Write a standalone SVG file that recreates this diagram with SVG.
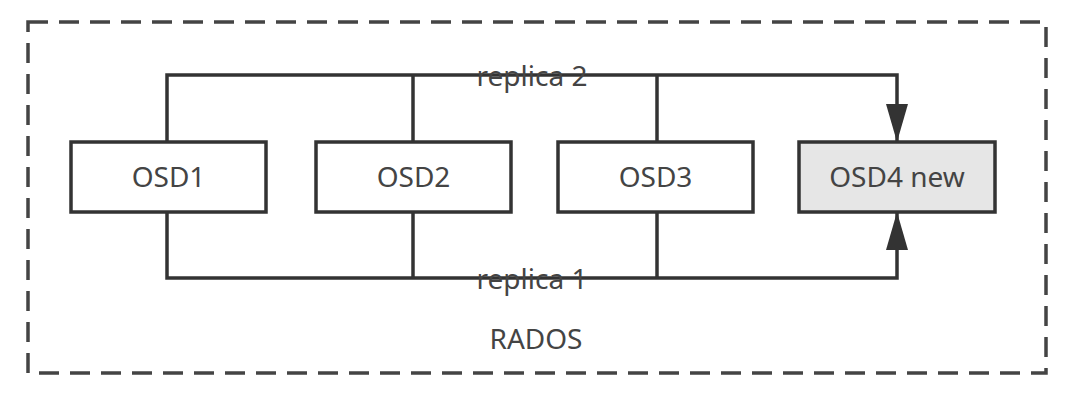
<svg xmlns="http://www.w3.org/2000/svg" width="1080" height="404" viewBox="0 0 1080 404">
<style>
.box{fill:#fff;stroke:#333;stroke-width:3.5}
.new{fill:#e6e6e6}
.t{font-family:"Noto Sans","Open Sans",sans-serif;font-size:28px;fill:#444;text-anchor:middle}
.c{fill:none;stroke:#333;stroke-width:3.5}
</style>
<defs>
<marker id="arr" viewBox="0 0 38 22" refX="37" refY="11" markerWidth="38" markerHeight="22" markerUnits="userSpaceOnUse" orient="auto">
<path d="M0,0 L38,11 L0,22 Z" fill="#333"/>
</marker>
</defs>
<rect width="1080" height="404" fill="#fff"/>
<g id="rados">
<rect x="28" y="22" width="1018" height="351" fill="none" stroke="#444" stroke-width="3.5" stroke-dasharray="20 11"/>
<text class="t" x="536" y="349">RADOS</text>
</g>
<g id="connectors">
<path class="c" d="M167,142 V75 H897 V141" marker-end="url(#arr)"/>
<path class="c" d="M413,142 V75"/>
<path class="c" d="M657,142 V75"/>
<path class="c" d="M167,212 V278 H897 V213" marker-end="url(#arr)"/>
<path class="c" d="M413,212 V278"/>
<path class="c" d="M657,212 V278"/>
<text class="t" x="532" y="86">replica 2</text>
<text class="t" x="532" y="289">replica 1</text>
</g>
<g id="osd1">
<rect class="box" x="71" y="142" width="195" height="70"/>
<text class="t" x="168.5" y="187">OSD1</text>
</g>
<g id="osd2">
<rect class="box" x="316" y="142" width="195" height="70"/>
<text class="t" x="413.5" y="187">OSD2</text>
</g>
<g id="osd3">
<rect class="box" x="558" y="142" width="195" height="70"/>
<text class="t" x="655.5" y="187">OSD3</text>
</g>
<g id="osd4">
<rect class="box new" x="799" y="142" width="196" height="70"/>
<text class="t" x="897" y="187">OSD4 new</text>
</g>
</svg>
